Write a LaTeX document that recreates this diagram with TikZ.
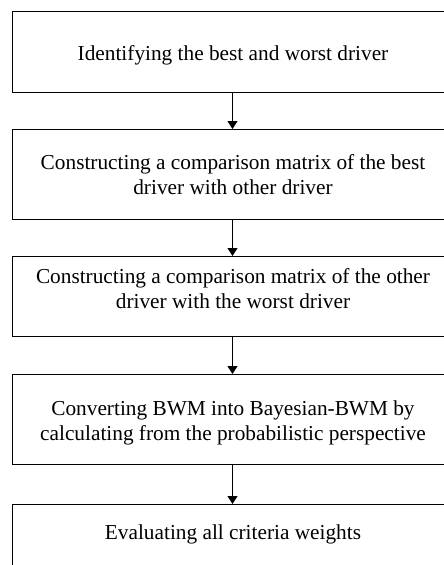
\documentclass[tikz,border=0pt]{standalone}
\usepackage{fontspec}
\setmainfont{Liberation Serif}
\usetikzlibrary{arrows.meta}
\tikzset{
  stepbox/.style={draw=black, line width=1.1pt, rectangle, minimum width=441pt, anchor=north west, inner sep=0pt},
  steptext/.style={font=\fontsize{21.3}{24.5}\selectfont, align=center, anchor=base, inner sep=0pt},
  flow/.style={line width=1.1pt, -{Triangle[width=10pt,length=8pt]}}
}
\begin{document}
\begin{tikzpicture}[x=1pt,y=1pt]
\useasboundingbox[fill=white] (0,0) rectangle (444,-565);
\node[stepbox, minimum height=81pt] (b1) at (12,-11) {};
\node[stepbox, minimum height=90pt] (b2) at (12,-129) {};
\node[stepbox, minimum height=80pt] (b3) at (12,-256) {};
\node[stepbox, minimum height=90pt] (b4) at (12,-374) {};
\node[stepbox, minimum height=90pt] (b5) at (12,-504) {};
\node[steptext] (t1) at (233,-60) {Identifying the best and worst driver};
\node[steptext] (t2) at (233,-194) {Constructing a comparison matrix of the best\\driver with other driver};
\node[steptext] (t3) at (233,-308) {Constructing a comparison matrix of the other\\driver with the worst driver};
\node[steptext] (t4) at (233,-440) {Converting BWM into Bayesian-BWM by\\calculating from the probabilistic perspective};
\node[steptext] (t5) at (233,-539) {Evaluating all criteria weights};
\draw[flow] (b1.south -| 232.5,0) -- (b2.north -| 232.5,0);
\draw[flow] (b2.south -| 232.5,0) -- (b3.north -| 232.5,0);
\draw[flow] (b3.south -| 232.5,0) -- (b4.north -| 232.5,0);
\draw[flow] (b4.south -| 232.5,0) -- (b5.north -| 232.5,0);
\end{tikzpicture}
\end{document}
